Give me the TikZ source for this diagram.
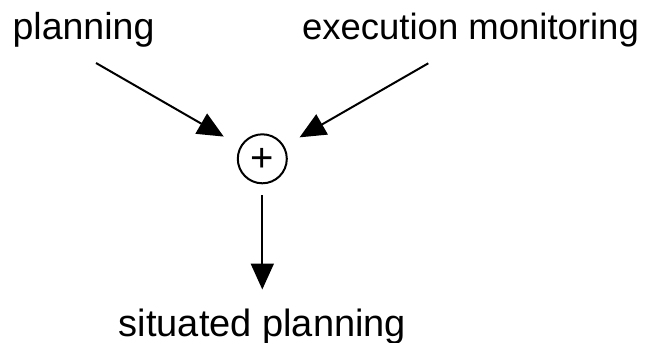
\documentclass[tikz,border=0pt]{standalone}
\usepackage{fontspec}
\setmainfont{Liberation Sans}
\usetikzlibrary{arrows.meta}
\begin{document}
\begin{tikzpicture}[x=1pt,y=-1pt,
  lbl/.style={inner sep=0pt, anchor=base, font=\fontsize{36.5}{40}\selectfont},
  arr/.style={line width=2pt, -{Triangle[length=26pt,width=23pt]}},
  sumnode/.style={circle, draw, line width=2pt, minimum size=49pt, inner sep=0pt}]
\useasboundingbox (0,0) rectangle (654,343);
\node[lbl, font=\fontsize{37.5}{40}\selectfont] (plan) at (83.5,39) {planning};
\node[lbl] (exec) at (470.5,39) {execution monitoring};
\node[lbl, font=\fontsize{38}{40}\selectfont] (sit) at (262.5,336) {situated planning};
\node[sumnode] (sum) at (262.3,158.8) {};
\node[inner sep=0pt, font=\fontsize{40}{40}\selectfont] (plus) at (262.3,160) {+};
\coordinate (pl0) at (96,63);
\coordinate (ex0) at (428.3,63.3);
\coordinate (sp0) at (262.3,289.5);
\draw[arr, shorten >=19pt] (pl0) -- (sum);
\draw[arr, shorten >=17.5pt] (ex0) -- (sum);
\draw[arr, shorten <=10.7pt] (sum) -- (sp0);
\end{tikzpicture}
\end{document}
